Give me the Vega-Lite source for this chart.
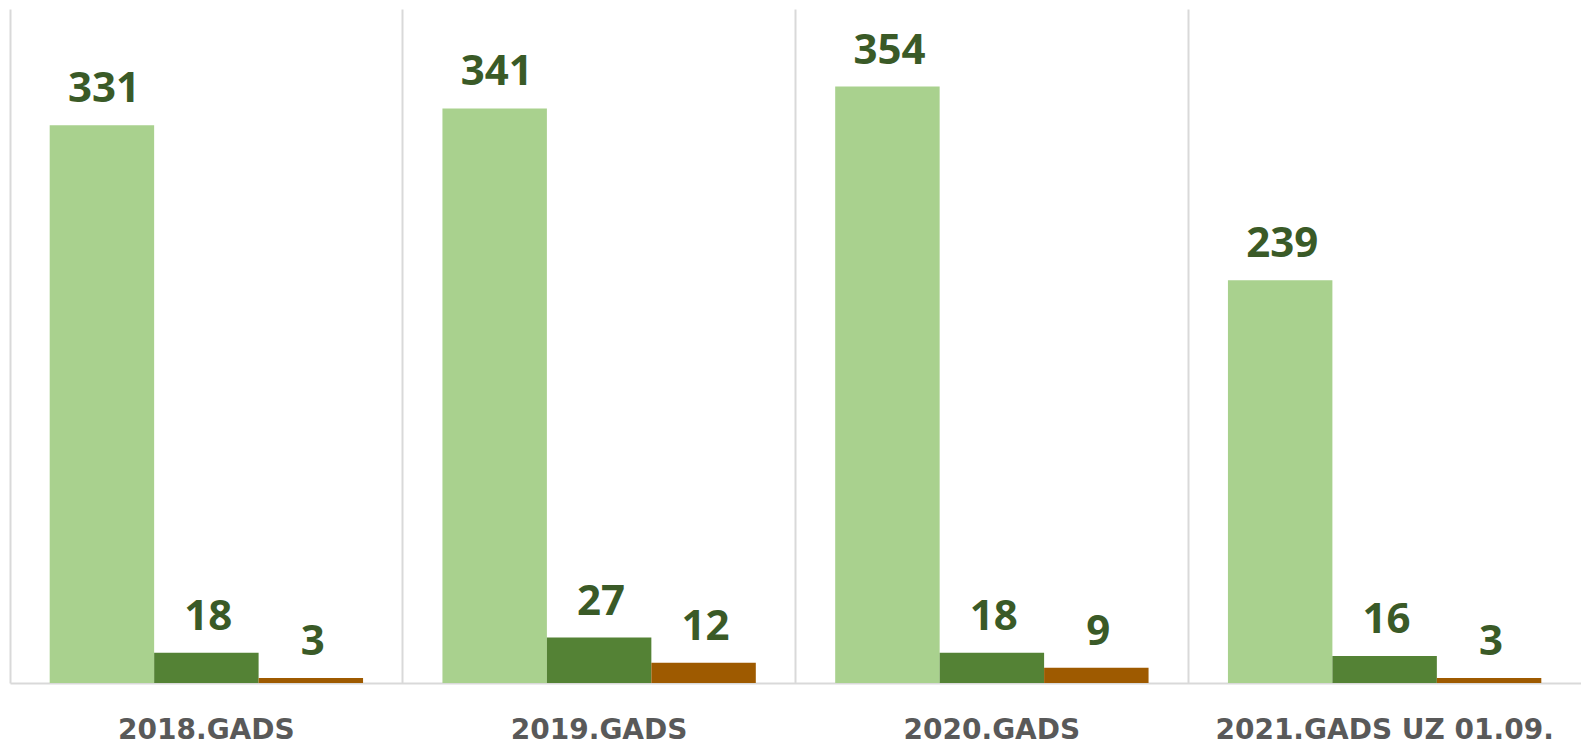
{
  "$schema": "https://vega.github.io/schema/vega-lite/v6.json",
  "width": 1571,
  "height": 674,
  "padding": {"left": 10, "top": 9, "right": 0, "bottom": 63},
  "autosize": {"type": "none"},
  "background": "white",
  "data": {
    "values": [
      {"year": "2018.GADS", "series": "A", "value": 331},
      {"year": "2018.GADS", "series": "B", "value": 18},
      {"year": "2018.GADS", "series": "C", "value": 3},
      {"year": "2019.GADS", "series": "A", "value": 341},
      {"year": "2019.GADS", "series": "B", "value": 27},
      {"year": "2019.GADS", "series": "C", "value": 12},
      {"year": "2020.GADS", "series": "A", "value": 354},
      {"year": "2020.GADS", "series": "B", "value": 18},
      {"year": "2020.GADS", "series": "C", "value": 9},
      {"year": "2021.GADS UZ 01.09.", "series": "A", "value": 239},
      {"year": "2021.GADS UZ 01.09.", "series": "B", "value": 16},
      {"year": "2021.GADS UZ 01.09.", "series": "C", "value": 3}
    ]
  },
  "config": {"view": {"stroke": null}},
  "encoding": {
    "x": {
      "field": "year", "type": "nominal", "sort": null,
      "scale": {"paddingInner": 0, "paddingOuter": 0},
      "axis": {
        "title": null, "labelAngle": 0, "labelFont": "DejaVu Sans", "labelFontWeight": "bold",
        "labelFontSize": 28, "labelColor": "#595959", "labelPadding": 33, "ticks": false,
        "labelBaseline": "top", "labelLimit": 0, "labelOverlap": false,
        "domainColor": "#d9d9d9", "domainWidth": 2,
        "grid": true, "bandPosition": 0, "gridColor": "#d9d9d9", "gridWidth": 2
      }
    },
    "xOffset": {"field": "series", "type": "nominal", "scale": {"paddingInner": 0, "paddingOuter": 0.38}},
    "y": {"field": "value", "type": "quantitative", "scale": {"domain": [0, 400]}, "axis": null}
  },
  "layer": [
    {
      "mark": {"type": "bar"},
      "encoding": {
        "color": {
          "field": "series", "type": "nominal",
          "scale": {"domain": ["A", "B", "C"], "range": ["#a9d18e", "#548235", "#9e5a00"]},
          "legend": null
        }
      }
    },
    {
      "mark": {"type": "text", "baseline": "alphabetic", "dy": -23, "dx": 2, "font": "Open Sans", "fontWeight": "bold", "fontSize": 42, "color": "#3a5a27"},
      "encoding": {"text": {"field": "value", "type": "quantitative"}}
    }
  ]
}
